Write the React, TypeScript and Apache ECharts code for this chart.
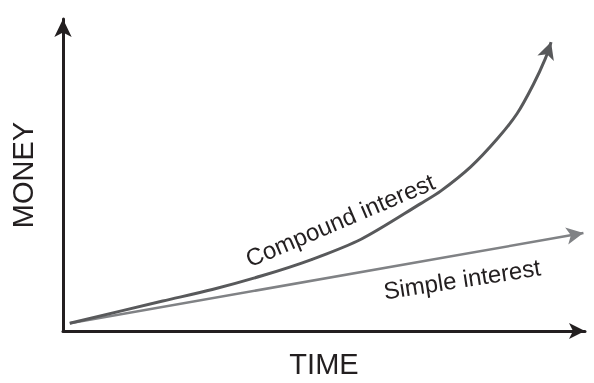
import React, { useEffect, useRef } from "react";
import * as echarts from "echarts";

const xAxisName = "TIME";
const yAxisName = "MONEY";
const seriesNames = ["Compound interest", "Simple interest"];
const compoundX = [1.3, 19.1, 28.6, 38.1, 47.6, 57.1, 68.6, 72.4, 78.1, 83.2, 87.0, 90.1, 92.4, 93.5];
const compoundY = [2.5, 9.6, 13.3, 17.7, 22.9, 29.4, 40.9, 44.9, 52.6, 61.6, 69.7, 79.0, 87.3, 92.6];
const simpleX = [1.3, 99.7];
const simpleY = [2.5, 31.4];

const GRID = { left: 60, top: 19, width: 525, height: 323 };
const INK = "#231f20";
const COMPOUND_COLOR = "#58595b";
const SIMPLE_COLOR = "#808285";
const FONT = "'Liberation Sans', Arial, Helvetica, sans-serif";

function arrowRotation(xs: number[], ys: number[]) {
  const n = xs.length;
  const dx = ((xs[n - 1] - xs[n - 2]) * GRID.width) / 100;
  const dy = ((ys[n - 1] - ys[n - 2]) * GRID.height) / 100;
  return (Math.atan2(dy, dx) * 180) / Math.PI - 90;
}

function buildData(xs: number[], ys: number[], color: string, size: number[]) {
  const rot = arrowRotation(xs, ys);
  return xs.map((x, i) => {
    if (i === xs.length - 1) {
      return {
        value: [x, ys[i]],
        symbol: "arrow",
        symbolSize: size,
        symbolRotate: rot,
        itemStyle: { color, borderWidth: 0 },
      };
    }
    return { value: [x, ys[i]], symbol: "none" };
  });
}

export default function App() {
  const ref = useRef<HTMLDivElement>(null);
  useEffect(() => {
    if (!ref.current) return;
    const chart = echarts.init(ref.current, undefined, { renderer: "svg" });
    const axisCommon = {
      type: "value" as const,
      min: 0,
      max: 100,
      axisTick: { show: false },
      axisLabel: { show: false },
      splitLine: { show: false },
      nameLocation: "middle" as const,
      nameTextStyle: { color: INK, fontSize: 29, fontFamily: FONT },
    };
    chart.setOption({
      animation: false,
      grid: { left: GRID.left, top: GRID.top, width: GRID.width, height: GRID.height },
      xAxis: {
        ...axisCommon,
        name: xAxisName,
        nameGap: 18,
        axisLine: {
          show: true,
          symbol: ["none", "arrow"],
          symbolSize: [12, 16],
          lineStyle: { color: INK, width: 3 },
        },
      },
      yAxis: {
        ...axisCommon,
        name: yAxisName,
        nameGap: 26,
        axisLine: {
          show: true,
          symbol: ["none", "arrow"],
          symbolSize: [13, 18],
          lineStyle: { color: INK, width: 3 },
        },
      },
      series: [
        {
          name: seriesNames[0],
          type: "line",
          smooth: 0.3,
          showSymbol: true,
          data: buildData(compoundX, compoundY, COMPOUND_COLOR, [13, 17]),
          lineStyle: { color: COMPOUND_COLOR, width: 3 },
          itemStyle: { color: COMPOUND_COLOR },
          z: 3,
        },
        {
          name: seriesNames[1],
          type: "line",
          showSymbol: true,
          data: buildData(simpleX, simpleY, SIMPLE_COLOR, [13, 17]),
          lineStyle: { color: SIMPLE_COLOR, width: 2.5 },
          itemStyle: { color: SIMPLE_COLOR },
          z: 2,
        },
      ],
      graphic: [
        {
          type: "text",
          x: 340,
          y: 220,
          rotation: (23 * Math.PI) / 180,
          style: {
            text: seriesNames[0],
            fill: INK,
            fontSize: 24,
            fontFamily: FONT,
            align: "center",
            verticalAlign: "middle",
          },
        },
        {
          type: "text",
          x: 462,
          y: 279,
          rotation: (8.8 * Math.PI) / 180,
          style: {
            text: seriesNames[1],
            fill: INK,
            fontSize: 24,
            fontFamily: FONT,
            align: "center",
            verticalAlign: "middle",
          },
        },
      ],
    });
    return () => chart.dispose();
  }, []);
  return (
    <div
      ref={ref}
      style={{ position: "fixed", left: 0, top: 0, width: 594, height: 383 }}
    />
  );
}
